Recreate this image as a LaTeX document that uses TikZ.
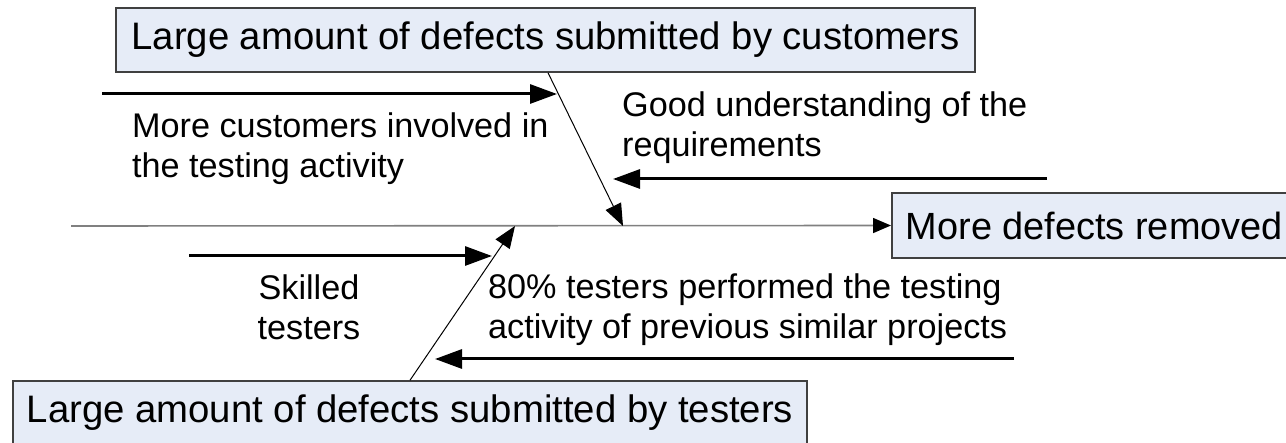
\documentclass[tikz,border=0pt]{standalone}
\usepackage{fontspec}
\setmainfont{Liberation Sans}
\usetikzlibrary{arrows.meta,calc}
\definecolor{boxfill}{RGB}{230,236,247}
\definecolor{boxline}{RGB}{64,64,64}
\definecolor{spinegray}{RGB}{128,128,128}
\tikzset{
  effectbox/.style={draw=boxline, line width=1.5pt, fill=boxfill, inner xsep=0pt, inner ysep=0pt,
    font=\fontsize{38.3}{44}\selectfont},
  causetext/.style={inner sep=0pt, anchor=base west, font=\fontsize{34.2}{39.5}\selectfont},
  causearrow/.style={line width=3pt, -{Triangle[length=27pt,width=19pt]}},
  branch/.style={line width=1pt, -{Triangle[length=22pt,width=17pt]}},
  spine/.style={draw=spinegray, line width=1.6pt, -{Triangle[length=18pt,width=15pt,color=black]}},
}
\begin{document}
\begin{tikzpicture}[x=1pt,y=-1pt]
\useasboundingbox (0,0) rectangle (1286,443);
% effect boxes
\node[effectbox, minimum width=859pt, minimum height=64pt] (top) at (545.5,40) {Large amount of defects submitted by customers};
\node[effectbox, minimum width=794pt, minimum height=64pt] (bot) at (410,413) {Large amount of defects submitted by testers};
\node[effectbox, anchor=west, minimum height=65pt, inner xsep=14pt, font=\fontsize{37.9}{44}\selectfont] (eff) at (891,225.5) {More defects removed};
% spine and branches
\coordinate (spinestart) at (71,226);
\coordinate (tj) at (623,226);
\coordinate (bj) at (515,226);
\coordinate (ts) at (548,0 |- top.south);
\coordinate (bs) at (410,0 |- bot.north);
\draw[spine] (spinestart) -- (eff.west);
\draw[branch] (ts) -- (tj);
\draw[branch] (bs) -- (bj);
% cause arrows
\coordinate (a1s) at (102,94);   \coordinate (a1e) at (557,94);
\coordinate (a2s) at (1047,179); \coordinate (a2e) at (613,179);
\coordinate (a3s) at (189,256);  \coordinate (a3e) at (492,256);
\coordinate (a4s) at (1014,359); \coordinate (a4e) at (435,359);
\draw[causearrow] (a1s) -- (a1e);
\draw[causearrow] (a2s) -- (a2e);
\draw[causearrow] (a3s) -- (a3e);
\draw[causearrow] (a4s) -- (a4e);
% cause texts
\node[causetext] (t1) at (132,138) {\begin{tabular}[t]{@{}l@{}}More customers involved in\\the testing activity\end{tabular}};
\node[causetext] (t2) at (622,117) {\begin{tabular}[t]{@{}l@{}}Good understanding of the\\requirements\end{tabular}};
\node[causetext, anchor=base] (t3) at (309,300) {\begin{tabular}[t]{@{}c@{}}Skilled\\testers\end{tabular}};
\node[causetext] (t4) at (488,299) {\begin{tabular}[t]{@{}l@{}}80\% testers performed the testing\\activity of previous similar projects\end{tabular}};
\end{tikzpicture}
\end{document}
